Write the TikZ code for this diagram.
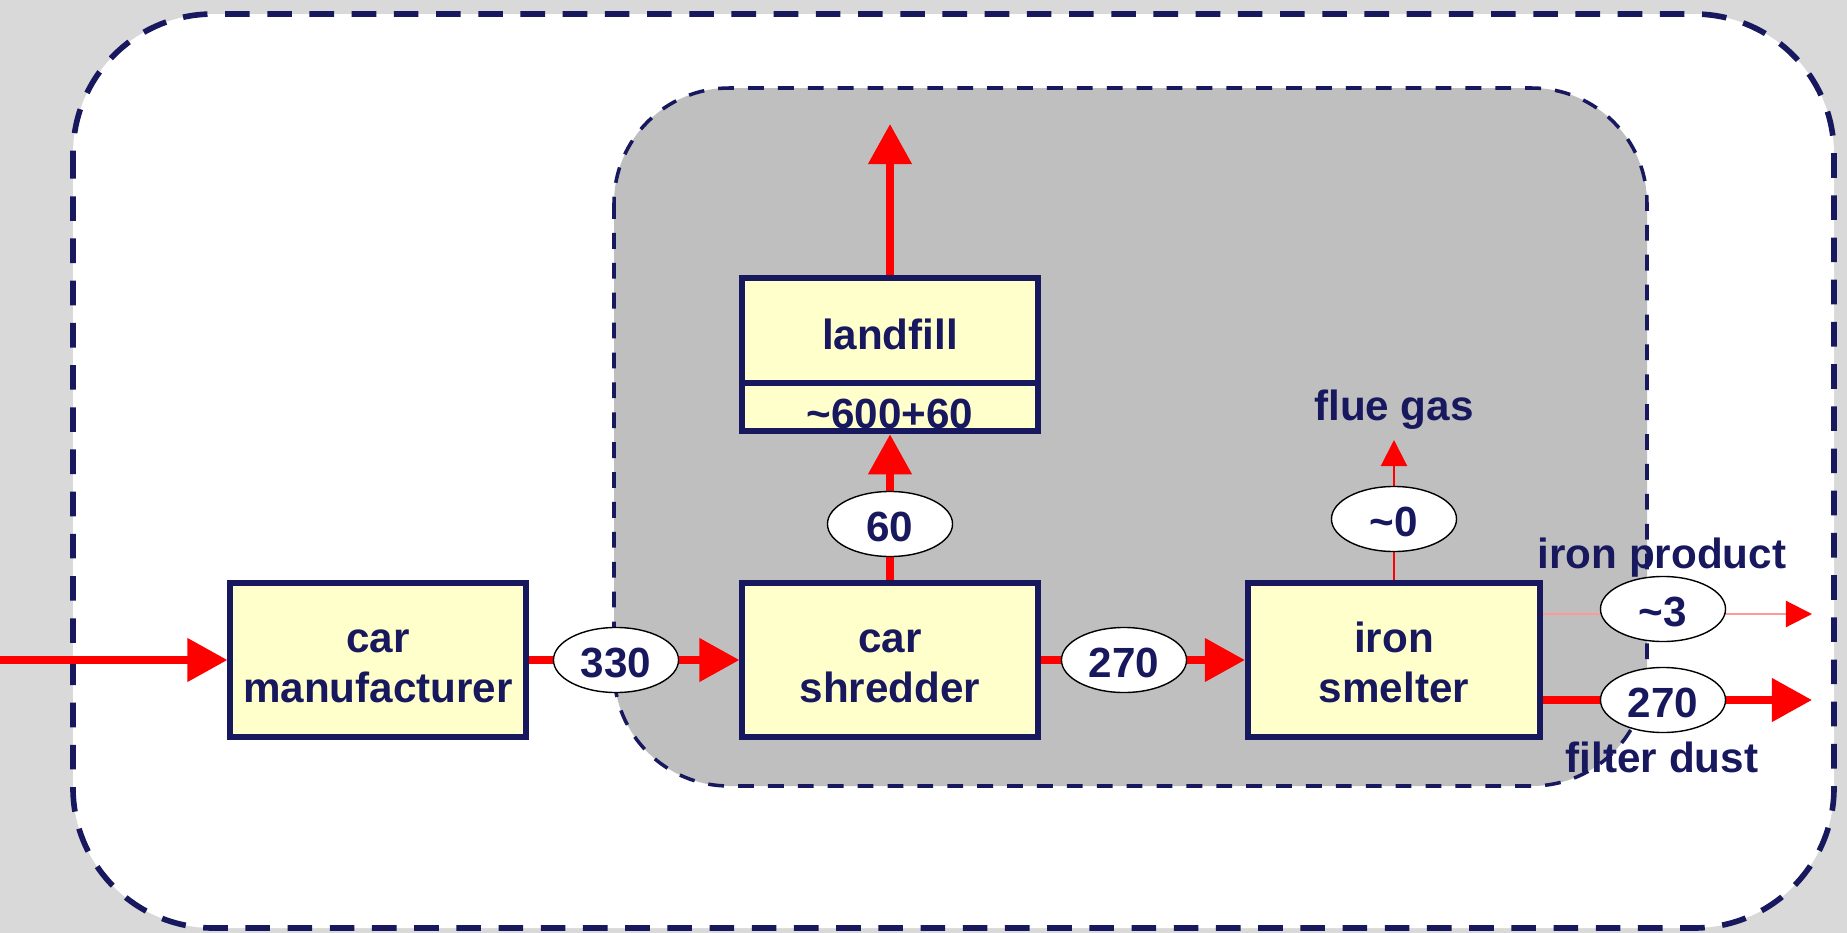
\documentclass[tikz,border=0pt]{standalone}
\usepackage{fontspec}
\setmainfont{Liberation Sans}
\usepackage{xcolor}
\usepackage{tikz}
\usetikzlibrary{arrows.meta,shapes.geometric}

\definecolor{navy}{RGB}{24,24,94}
\definecolor{boxfill}{RGB}{255,255,204}
\definecolor{shade}{RGB}{191,191,191}
\definecolor{paper}{RGB}{217,217,217}

\begin{document}
\begin{tikzpicture}[
  x=0.01cm, y=-0.01cm,
  font=\fontsize{12}{14.4}\selectfont\bfseries,
  text=navy,
  box/.style={draw=navy, line width=1.7pt, fill=boxfill, align=center, minimum width=2.95cm, minimum height=1.54cm, inner sep=0pt, text height=2.45em},
  flow/.style={ellipse, draw=black, line width=0.4pt, fill=white, minimum width=1.25cm, minimum height=0.65cm, inner sep=0pt, text height=1em},
  mainflow/.style={red, line width=2.1pt, -{Triangle[length=0.4cm,width=0.42cm]}},
  sideflow/.style={red, line width=0.6pt, -{Triangle[length=0.26cm,width=0.26cm,color=red]}},
  system/.style={draw=navy, line width=1.6pt, dash pattern=on 7pt off 5pt, rounded corners=1.4cm},
  plant/.style={draw=navy, line width=1pt, dash pattern=on 4.5pt off 4pt, rounded corners=1.15cm}
]
\fill[paper] (0,0) rectangle (1847,933);
\useasboundingbox (0,0) rectangle (1847,933);
\filldraw[system, fill=white] (73,14) rectangle (1834,928);
\filldraw[plant, fill=shade] (614,88) rectangle (1647,786);

\node[box] (make) at (378,660) {car\\manufacturer};
\node[box] (shred) at (890,660) {car\\shredder};
\node[box, minimum width=2.92cm] (smelt) at (1394,660) {iron\\smelter};
\node[box, minimum height=1.05cm, text height=1.05em] (land) at (890,331) {landfill};
\node[box, minimum height=0.485cm, text height=1.2em, text depth=0pt] (landval) at (890,407) {\textasciitilde600+60};

\coordinate (src) at (0,660);
\coordinate (vent) at (890,124);
\coordinate (flue) at (1394,440);
\coordinate (prod) at (1812,614);
\coordinate (dust) at (1812,700);

\draw[mainflow] (src) -- (make);
\draw[mainflow] (make) -- (shred);
\draw[mainflow] (shred) -- (smelt);
\draw[mainflow] (shred) -- (landval);
\draw[mainflow] (land) -- (vent);
\draw[sideflow] (smelt) -- (flue);
\draw[sideflow, red!40] (smelt.east |- prod) -- (prod);
\draw[mainflow] (smelt.east |- dust) -- (dust);

\node[flow] (f330) at (616,660) {330};
\node[flow] (f270) at (1124,660) {270};
\node[flow] (f60) at (890,524) {60};
\node[flow] (f0) at (1394,519) {\textasciitilde0};
\node[flow] (f3) at (1663,609) {\textasciitilde3};
\node[flow] (fdust) at (1663,700) {270};

\node (fluelbl) at (1394,410) {flue gas};
\node (prodlbl) at (1662,558) {iron product};
\node (dustlbl) at (1662,757) {filter dust};
\end{tikzpicture}
\end{document}
